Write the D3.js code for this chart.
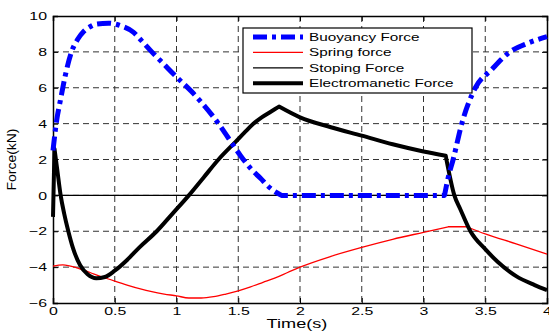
<!DOCTYPE html>
<html>
<head>
<meta charset="utf-8">
<script src="https://cdn.jsdelivr.net/npm/d3@7"></script>
<style>
  body { margin: 0; background: #fff; }
  text { font-family: "Liberation Sans", Arial, sans-serif; fill: #000; }
</style>
</head>
<body>
<div id="chart"></div>
<script>
// axis ticks
var xTicks = [0, 0.5, 1, 1.5, 2, 2.5, 3, 3.5, 4];
var yTicks = [-6, -4, -2, 0, 2, 4, 6, 8, 10];

// Buoyancy Force (kN)
var buoyT = [0, 0.03, 0.06, 0.1, 0.15, 0.2, 0.25, 0.3, 0.35, 0.45, 0.55, 0.65, 0.72, 0.8, 0.9, 1.0, 1.12, 1.2, 1.34, 1.42, 1.52, 1.6, 1.68, 1.76, 1.85, 3.17, 3.2, 3.24, 3.31, 3.42, 3.55, 3.7, 3.85, 4.0];
var buoyV = [2.5, 4.2, 5.3, 6.7, 8.0, 8.7, 9.15, 9.4, 9.55, 9.6, 9.45, 9.1, 8.6, 8.0, 7.3, 6.6, 5.8, 5.2, 4.0, 3.2, 2.2, 1.5, 0.95, 0.4, 0, 0, 1.0, 2.0, 4.0, 6.0, 7.0, 8.0, 8.5, 8.85];
var buoyBreaks = [24, 25];

// Spring force
var springT = [0, 0.08, 0.2, 0.3, 0.4, 0.5, 0.6, 0.7, 0.8, 0.9, 1.0, 1.1, 1.2, 1.3, 1.4, 1.5, 1.6, 1.7, 1.8, 1.9, 2.0, 2.25, 2.5, 2.75, 3.0, 3.2, 3.35, 3.5, 3.75, 4.0];
var springV = [-3.95, -3.87, -4.05, -4.3, -4.55, -4.78, -5.0, -5.2, -5.37, -5.5, -5.6, -5.72, -5.72, -5.65, -5.5, -5.32, -5.1, -4.85, -4.6, -4.3, -4.0, -3.4, -2.9, -2.45, -2.06, -1.75, -1.75, -2.15, -2.7, -3.27];
var springBreaks = [25, 26];

// Stoping Force
var stopT = [0, 4];
var stopV = [0, 0];

// Electromanetic Force
var emT = [0, 0.012, 0.035, 0.062, 0.09, 0.124, 0.16, 0.22, 0.28, 0.35, 0.42, 0.5, 0.6, 0.7, 0.84, 0.97, 1.1, 1.22, 1.34, 1.48, 1.55, 1.62, 1.69, 1.76, 1.83, 2.0, 2.25, 2.5, 2.75, 3.0, 3.18, 3.25, 3.3, 3.38, 3.5, 3.6, 3.75, 3.9, 4.0];
var emV = [-1.2, 2.6, 1.4, 0.0, -1.0, -2.0, -2.9, -3.9, -4.4, -4.62, -4.55, -4.2, -3.6, -2.9, -2.0, -1.0, 0.0, 1.0, 2.0, 3.0, 3.5, 3.98, 4.35, 4.65, 4.95, 4.35, 3.8, 3.33, 2.85, 2.45, 2.21, 0.0, -0.8, -2.0, -3.0, -3.7, -4.5, -5.0, -5.28];
var emBreaks = [1, 24, 30];

var legendNames = ["Buoyancy Force", "Spring force", "Stoping Force", "Electromanetic Force"];

var W = 549, H = 332;
var margin = {top: 16, right: 2, bottom: 29, left: 53},
    width = W - margin.left - margin.right,
    height = H - margin.top - margin.bottom;

var svg = d3.select("#chart").append("svg")
    .attr("width", W)
    .attr("height", H);

var g = svg.append("g")
    .attr("transform", "translate(" + margin.left + "," + margin.top + ")");

var x = d3.scaleLinear().domain([0, 4]).range([0, width]);
var y = d3.scaleLinear().domain([-6, 10]).range([height, 0]);

// stretch text sideways like the original figure
var stretch = 1.38;
function widen(sel, k) {
    sel.each(function () {
        var len = this.getComputedTextLength();
        d3.select(this)
            .attr("textLength", len * (k || stretch))
            .attr("lengthAdjust", "spacingAndGlyphs");
    });
}

// grid
g.append("g").selectAll("line")
    .data(xTicks.slice(1, -1))
    .enter().append("line")
    .attr("x1", d => x(d)).attr("x2", d => x(d))
    .attr("y1", 0).attr("y2", height)
    .attr("stroke", "#333").attr("stroke-width", 1)
    .attr("stroke-dasharray", "6,4");

g.append("g").selectAll("line")
    .data(yTicks.slice(1, -1))
    .enter().append("line")
    .attr("x1", 0).attr("x2", width)
    .attr("y1", d => y(d)).attr("y2", d => y(d))
    .attr("stroke", "#333").attr("stroke-width", 1)
    .attr("stroke-dasharray", "6,4");

// axes (ticks inward, box)
var xAxis = g.append("g")
    .attr("transform", "translate(0," + height + ")")
    .call(d3.axisBottom(x).tickValues(xTicks).tickSize(-5).tickFormat(d3.format("")));
var xTop = g.append("g")
    .call(d3.axisTop(x).tickValues(xTicks).tickSize(-5).tickFormat(""));
var yAxis = g.append("g")
    .call(d3.axisLeft(y).tickValues(yTicks).tickSize(-5));
var yRight = g.append("g")
    .attr("transform", "translate(" + width + ",0)")
    .call(d3.axisRight(y).tickValues(yTicks).tickSize(-5).tickFormat(""));

[xAxis, xTop, yAxis, yRight].forEach(function (a) {
    a.select(".domain").attr("stroke", "#000").attr("stroke-width", 1.5);
    a.selectAll(".tick line").attr("stroke", "#000");
});

xAxis.selectAll("text")
    .attr("y", 4).attr("dy", "0.71em")
    .style("font-size", "11.5px")
    .call(widen);
xAxis.selectAll(".tick text").each(function () {
    var len = +this.getAttribute("textLength");
    d3.select(this).attr("text-anchor", "start").attr("x", -len / 2);
});

yAxis.selectAll("text")
    .attr("x", -6)
    .style("font-size", "11.5px")
    .call(widen);

// lines: smooth between breakpoints, sharp corners at the breaks
var line = d3.line()
    .x(d => x(d[0]))
    .y(d => y(d[1]))
    .curve(d3.curveMonotoneX);

function pairs(t, v) { return t.map((d, i) => [d, v[i]]); }
function split(p, breaks) {
    var parts = [], start = 0;
    breaks.concat([p.length - 1]).forEach(function (b) {
        parts.push(p.slice(start, b + 1));
        start = b;
    });
    return parts;
}

var series = [
    {t: stopT, v: stopV, b: [], color: "#000", w: 1.3, dash: null},
    {t: springT, v: springV, b: springBreaks, color: "#ff0000", w: 1.3, dash: null},
    {t: emT, v: emV, b: emBreaks, color: "#000", w: 4, dash: null},
    {t: buoyT, v: buoyV, b: buoyBreaks, color: "#0000ff", w: 5, dash: "14,5,4,5"}
];

var plot = g.append("g");
series.forEach(function (s) {
    var parts = split(pairs(s.t, s.v), s.b);
    var d = parts.map(function (p) { return line(p); })
        .map(function (str, i) { return i === 0 ? str : "L" + str.slice(1); })
        .join("");
    plot.append("path")
        .attr("d", d)
        .attr("fill", "none")
        .attr("stroke", s.color)
        .attr("stroke-width", s.w)
        .attr("stroke-dasharray", s.dash)
        .attr("stroke-linejoin", "round");
});

// axis titles
var xt = svg.append("text")
    .attr("y", 328)
    .style("font-size", "12.5px")
    .text("Time(s)")
    .call(widen, 1.45);
var xtLen = +xt.attr("textLength");
xt.attr("x", 297 - xtLen / 2);

var yt = svg.append("text")
    .attr("transform", "translate(16," + (margin.top + height / 2) + ") rotate(-90)")
    .attr("text-anchor", "middle")
    .style("font-size", "12px")
    .text("Force(kN)");
yt.attr("textLength", 62).attr("lengthAdjust", "spacingAndGlyphs");

// legend
var legend = svg.append("g").attr("transform", "translate(243,28)");
legend.append("rect")
    .attr("width", 229).attr("height", 65)
    .attr("fill", "#fff").attr("stroke", "#000").attr("stroke-width", 1.2);

var legStyle = [
    {color: "#0000ff", w: 5, dash: "14,5,4,5"},
    {color: "#ff0000", w: 1.3, dash: null},
    {color: "#000", w: 1.3, dash: null},
    {color: "#000", w: 4, dash: null}
];

legendNames.forEach(function (name, i) {
    var ry = 9 + i * 15.4;
    legend.append("line")
        .attr("x1", 10).attr("x2", 60)
        .attr("y1", ry).attr("y2", ry)
        .attr("stroke", legStyle[i].color)
        .attr("stroke-width", legStyle[i].w)
        .attr("stroke-dasharray", legStyle[i].dash);
    legend.append("text")
        .attr("x", 66).attr("y", ry + 4)
        .style("font-size", "11.5px")
        .text(name)
        .call(widen, 1.33);
});
</script>
</body>
</html>
